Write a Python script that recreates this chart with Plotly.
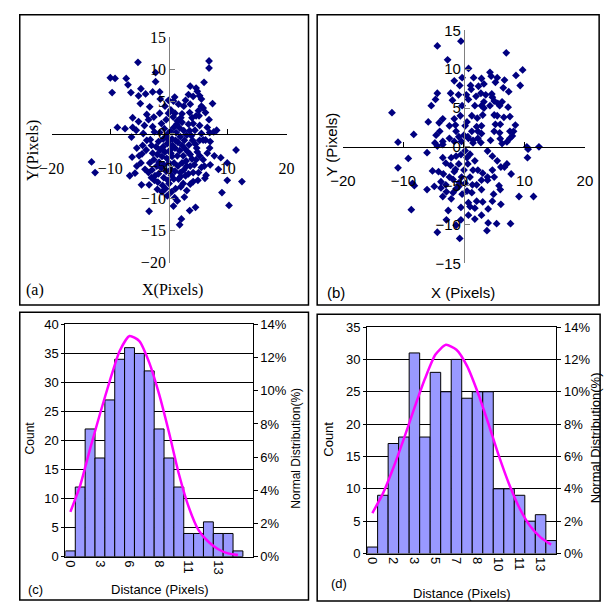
import plotly.graph_objects as go

# ---------------- data ----------------
a_points = [
    (-5.3, 11.1), (6.8, 11.3), (6.8, 10.2), (-10.0, 8.7), (-9.2, 8.6), (-7.3, 8.6), (-7.0, 7.6),
    (-2.3, 9.5), (-2.3, 8.1), (-9.7, 6.4), (-6.5, 6.4), (-5.2, 5.9), (-4.8, 7.0), (-4.0, 6.2),
    (-2.8, 6.5), (-1.6, 6.5), (-4.9, 4.7), (-3.3, 4.2), (-1.5, 5.4), (-0.1, 5.2), (-1.6, 3.2),
    (-0.1, 3.2), (-6.2, 2.5), (-5.2, 1.9), (-8.8, 1.0), (-7.5, 0.8), (-6.2, 1.0), (-5.6, 0.56),
    (-6.4, -0.5), (-4.4, 0.06), (-3.2, -0.9), (-2.5, 0.3), (-1.3, 1.6), (5.95, 8.0), (3.6, 7.4),
    (4.6, 7.1), (4.8, 6.6), (3.3, 6.1), (4.1, 5.8), (5.2, 5.9), (5.5, 5.4), (0.95, 5.7), (0.74, 5.1),
    (7.4, 4.7), (5.5, 4.3), (5.8, 4.0), (2.5, 4.3), (3.6, 4.6), (3.5, 3.3), (0.3, 3.7), (0.7, 2.6),
    (2.2, 3.1), (4.6, 2.8), (5.1, 2.8), (3.9, 2.5), (6.8, 2.2), (2.2, 1.8), (1.4, 2.0), (4.1, 1.6),
    (5.2, 1.3), (3.3, 1.5), (8.1, 0.56), (7.6, 0.3), (6.9, 0.2), (5.5, 0.06), (4.4, 0.56),
    (5.8, -0.95), (11.4, -2.5), (6.9, -2.2), (7.7, -3.4), (8.8, -3.7), (9.9, -4.5), (8.4, -5.5),
    (6.3, -6.4), (6.1, -6.9), (9.9, -7.2), (12.4, -7.4), (9.0, -9.1), (10.2, -11.1), (3.6, -7.8),
    (4.1, -7.4), (4.5, -11.4), (3.5, -11.9), (1.4, -10.4), (0.74, -11.2), (2.1, -13.2), (1.8, -14.1),
    (0.95, -9.9), (1.1, -8.5), (2.4, -7.7), (2.8, -6.5), (3.3, -6.2), (1.9, -6.0), (4.1, -6.0),
    (5.0, -6.0), (5.2, -3.4), (5.8, -4.0), (4.6, -4.0), (4.7, -2.2), (5.2, -1.0), (6.2, -0.95),
    (3.6, -3.2), (3.0, -5.0), (2.2, -4.5), (1.4, -3.4), (0.85, -4.5), (0.3, -5.5), (0.0, -7.7),
    (0.4, -9.0), (1.9, -0.44), (-13.2, -4.35), (-12.6, -6.0), (-6.3, -3.6), (-6.7, -6.5),
    (-5.8, -6.1), (-4.7, -7.9), (-3.4, -7.9), (-3.4, -12.0), (-5.1, -3.4), (-4.6, -3.1),
    (-1.1, -8.0), (-1.9, -7.5), (-3.5, -6.0), (-2.4, -6.5), (-4.1, -5.5), (-3.3, -4.5),
    (-0.5, -0.5), (0.2, 0.4), (0.8, 1.0), (1.2, 0.2), (1.8, 0.9), (2.5, 0.5), (3.0, -0.2),
    (2.6, -1.0), (1.5, -1.3), (0.6, -1.8), (-0.3, -1.5), (-1.0, -0.8), (-1.8, -1.2), (-2.2, -2.0),
    (-1.5, -2.5), (-0.7, -2.8), (0.2, -2.5), (1.0, -2.2), (1.8, -2.6), (2.7, -2.3), (3.4, -1.7),
    (4.0, -1.0), (3.8, -0.3), (4.5, -1.6), (3.2, -2.8), (2.4, -3.4), (0.5, -3.5), (-0.4, -3.8),
    (-1.2, -3.5), (-2.0, -3.2), (-2.8, -3.0), (-2.6, -4.0), (-1.7, -4.4), (-0.9, -4.8), (0.0, -4.5),
    (1.5, -5.0), (2.5, -5.6), (3.6, -5.0), (4.3, -4.8), (3.9, -3.9), (2.9, -4.2), (1.0, -5.8),
    (0.4, -6.4), (-0.5, -5.8), (-1.3, -5.3), (-2.1, -5.0), (-2.9, -5.6), (-1.8, -6.2), (-0.9, -6.8),
    (-0.2, -7.2), (0.8, -7.0), (1.6, -7.0), (2.0, -8.2), (-0.6, -8.5), (-2.5, -7.2), (-3.0, -6.8),
    (-1.2, -9.0), (-0.3, -9.6), (-2.0, -8.6), (0.5, -0.8), (1.3, 1.5), (2.0, 2.5), (1.0, 3.2),
    (-0.5, 2.2), (-0.8, 0.8), (-1.6, 0.2), (-2.8, 1.1), (-3.5, 2.2), (-3.8, -1.0), (-4.5, -1.8),
    (-3.0, -1.8), (-3.9, -2.5), (-5.5, -2.2), (-4.8, -4.5), (-5.5, -5.0), (6.5, -3.0), (6.0, -5.0),
    (7.0, -4.8), (5.5, -5.2), (4.9, -7.2), (3.0, -8.8), (2.6, -9.8), (6.5, 1.0), (7.0, -1.2),
    (5.0, 3.6), (6.2, 3.3), (2.8, 5.2), (1.6, 4.6), (-0.7, 4.3), (-2.6, 2.6), (-3.8, 3.0),
    (-4.2, 1.3), (1.1, -1.0), (2.2, -1.8), (0.0, -1.1), (-0.2, 0.0), (3.5, 0.5), (4.8, -2.8),
    (2.0, -6.6), (-1.0, -2.0), (0.3, -3.0),
]

b_points = [
    (-4.4, 13.0), (-0.5, 13.6), (-2.7, 11.2), (-1.6, 8.5), (-0.3, 8.9), (-4.4, 6.9), (-4.7, 6.1),
    (-5.4, 5.3), (-2.2, 6.9), (-0.9, 6.7), (-0.3, 5.3), (-11.9, 4.4), (-5.9, 3.2), (-4.1, 3.1),
    (-3.5, 3.6), (-2.4, 2.7), (-1.3, 2.0), (-8.3, 1.6), (-4.6, 1.5), (3.8, -10.8), (4.0, -9.8),
    (5.4, -9.9), (7.7, -9.9), (9.1, -6.4), (11.5, -6.4), (7.8, -3.5), (6.7, -2.6), (10.6, -0.3),
    (10.5, -1.4), (8.2, 2.0), (7.6, 1.1), (-0.7, 7.9), (-1.9, 6.0), (0.4, 6.7),
    (7.0, 12.1), (0.76, 10.1), (4.3, 9.6), (4.5, 9.1), (5.5, 8.9), (6.7, 8.6), (8.6, 9.2),
    (9.7, 9.9), (9.3, 7.9), (1.6, 8.9), (2.9, 8.8), (1.1, 7.9), (2.4, 7.8), (3.3, 8.1), (5.2, 8.3),
    (6.5, 7.6), (7.4, 7.1), (2.0, 6.5), (2.8, 6.9), (3.6, 6.7), (4.6, 6.8), (4.7, 6.4), (3.3, 5.8),
    (2.9, 5.3), (3.3, 5.0), (4.3, 5.3), (5.6, 5.6), (5.9, 5.3), (6.3, 5.8), (7.3, 5.1), (5.0, 5.9),
    (2.2, 3.7), (3.1, 4.1), (5.0, 4.1), (5.5, 4.0), (6.6, 3.8), (7.6, 3.9), (5.2, 2.9), (6.0, 2.9),
    (8.5, 2.8), (0.2, 2.7), (2.3, 2.0), (2.9, 2.7), (5.0, 2.0), (5.9, 1.8), (7.6, 2.0), (8.0, 1.4),
    (0.65, 1.3), (1.5, 0.84), (2.8, 0.55), (4.4, 0.84), (6.0, 1.05), (7.1, 0.63), (6.3, 0.42),
    (10.4, 0.0), (12.4, 0.0),
    (-10.9, 0.6), (-9.2, -1.5), (-10.9, -2.7), (-8.5, -4.7), (-8.2, -5.0), (-8.7, -8.1),
    (-6.1, -5.5), (-4.9, -5.1), (-6.1, -0.76), (-5.2, -3.1), (-4.2, -3.2), (-3.4, -3.5),
    (-3.8, -4.5), (-4.4, 0.1), (-3.5, 0.3), (-3.5, -1.4), (-2.1, -1.4), (-1.3, -1.2), (-0.5, -1.0),
    (-1.4, -2.9), (-2.9, -5.8), (-2.1, -6.7), (-1.3, -5.4), (-2.6, -8.2), (-2.9, -9.4),
    (-4.4, -11.0), (-0.7, -11.8), (-1.3, -10.1), (-0.5, -9.4), (-1.8, -4.2), (-0.8, -4.6),
    (-0.3, -6.1), (-0.5, -7.8), (-3.0, -2.1),
    (3.9, -0.54), (4.7, -1.2), (5.5, -1.8), (6.1, -2.6), (4.7, -3.0), (3.9, -3.9), (3.1, -3.4),
    (2.3, -3.0), (1.8, -1.8), (1.0, -0.96), (0.64, -2.2), (1.4, -4.9), (2.9, -5.5), (3.9, -4.3),
    (4.9, -6.1), (5.8, -5.0), (6.0, -5.5), (4.0, -8.0), (3.1, -7.1), (1.8, -7.9), (1.0, -7.7),
    (0.74, -7.2), (2.1, -7.0), (5.0, -3.9), (7.1, -2.2), (6.1, -7.4), (4.7, -7.0),
    (0.2, -0.5), (0.5, -1.4), (0.0, -3.0), (-0.85, -2.2), (-0.4, -3.9), (0.2, -4.7), (-0.85, -5.1),
    (1.0, -3.9), (1.5, -3.0), (0.5, -5.7), (1.3, -5.9), (2.1, -4.9), (2.9, -4.3), (-1.6, -3.2),
    (-2.2, -2.4), (-2.4, -3.9), (-3.0, -4.9), (-3.8, -5.3), (-3.5, -6.4), (-1.8, -5.9),
    (0.74, -8.8), (1.8, -9.3), (2.9, -8.8),
    (-2.4, 1.1), (-1.6, 0.7), (-0.85, 1.3), (-0.4, 0.7), (0.0, 1.5), (-1.4, 2.8), (-3.5, 0.7),
    (-4.0, 2.0), (-4.8, 0.5), (-1.6, 3.6), (-0.6, 4.0), (0.5, 3.2), (1.3, 2.0), (0.74, 1.1),
    (1.5, 0.5), (2.3, 1.1), (2.9, 1.7), (2.1, 2.6), (1.3, 4.0), (1.8, 5.3), (0.74, 6.1), (1.2, 7.4),
]

c_counts = [1, 12, 22, 17, 27, 34, 36, 35, 32, 22, 17, 12, 4, 4, 6, 4, 4, 1]
c_normal_pct = [2.7, 4.3, 6.5, 8.6, 10.6, 12.4, 13.3, 13.0, 11.7, 9.8, 7.5, 5.0, 3.0, 1.6, 0.9, 0.45, 0.2, 0.1]
c_tick_labels = ["0", "3", "6", "8", "11", "13"]

d_counts = [1, 9, 17, 18, 31, 18, 28, 25, 30, 24, 25, 25, 10, 10, 9, 5, 6, 2]
d_normal_pct = [2.5, 3.7, 5.3, 7.1, 9.0, 10.8, 12.3, 12.9, 12.6, 11.6, 10.0, 8.1, 6.1, 4.3, 2.8, 1.7, 1.0, 0.55]
d_tick_labels = ["0", "2", "3", "5", "7", "8", "10", "11", "13"]

# ---------------- helpers ----------------
W, H = 611, 612
def px(x): return x / W
def py(y): return 1 - y / H
def zero_pos(dom, rng):
    return dom[0] + (0 - rng[0]) / (rng[1] - rng[0]) * (dom[1] - dom[0])

serif = "Times New Roman, Liberation Serif, serif"
sans = "Arial, Liberation Sans, sans-serif"
navy = "#000080"

fig = go.Figure()

ax_, ay_ = zip(*a_points)
fig.add_trace(go.Scatter(x=ax_, y=ay_, mode="markers", xaxis="x", yaxis="y",
                         marker=dict(symbol="diamond", size=6, color=navy)))
bx_, by_ = zip(*b_points)
fig.add_trace(go.Scatter(x=bx_, y=by_, mode="markers", xaxis="x2", yaxis="y2",
                         marker=dict(symbol="diamond", size=6, color=navy)))

bar_style = dict(color="#9999FF", line=dict(color="black", width=1))
c_idx = list(range(len(c_counts)))
d_idx = list(range(len(d_counts)))
fig.add_trace(go.Bar(x=c_idx, y=c_counts, width=1, marker=bar_style, xaxis="x3", yaxis="y3"))
fig.add_trace(go.Scatter(x=c_idx, y=c_normal_pct, mode="lines", xaxis="x3", yaxis="y4",
                         line=dict(color="#FF00FF", width=2.5, shape="spline", smoothing=0.6)))
fig.add_trace(go.Bar(x=d_idx, y=d_counts, width=1, marker=bar_style, xaxis="x4", yaxis="y5"))
fig.add_trace(go.Scatter(x=d_idx, y=d_normal_pct, mode="lines", xaxis="x4", yaxis="y6",
                         line=dict(color="#FF00FF", width=2.5, shape="spline", smoothing=0.6)))

# ---------------- scatter axes ----------------
a_xdom, a_ydom = [px(40), px(283.3)], [py(261.5), py(29)]
a_xr, a_yr = [-20, 20], [-20, 15]
b_xdom, b_ydom = [px(341.7), px(592.3)], [py(262), py(22)]
b_xr, b_yr = [-20, 20], [-15, 15]

def scat_x(dom, rng, ydom, yrng, font):
    return dict(domain=dom, range=rng, anchor="free", position=zero_pos(ydom, yrng),
                showline=True, linecolor="black", linewidth=1, ticks="inside", ticklen=5,
                tickcolor="black", tickvals=[-20, -10, 0, 10, 20], ticklabelstandoff=20,
                tickfont=font, showgrid=False, zeroline=False, fixedrange=True)

def scat_y(dom, rng, xdom, xrng, font, vals):
    return dict(domain=dom, range=rng, anchor="free", position=zero_pos(xdom, xrng),
                showline=True, linecolor="#808080", linewidth=1, ticks="inside", ticklen=5,
                tickcolor="#808080", tickvals=vals, tickfont=font, showgrid=False,
                zeroline=False, fixedrange=True)

fa = dict(family=serif, size=16, color="black")
fb = dict(family=sans, size=15, color="black")

# ---------------- histogram axes ----------------
c_xdom, c_ydom = [px(54.3), px(248.3)], [py(564.3), py(325)]
d_xdom, d_ydom = [px(366.7), px(562.7)], [py(561), py(327.7)]
fh = dict(family=sans, size=13, color="black")

def hist_x(dom, anchor, n_extra, n, labels, step):
    return dict(domain=dom, anchor=anchor, range=[-0.5, n - 0.5 + n_extra],
                tickvals=list(range(0, step * len(labels), step)), ticktext=labels,
                tickangle=90, tickfont=fh, showline=True, linecolor="black", mirror=True,
                ticks="", showgrid=False, zeroline=False, fixedrange=True)

def hist_y(dom, anchor, top):
    return dict(domain=dom, anchor=anchor, range=[0, top], dtick=5, tickfont=fh,
                showline=True, linecolor="black", ticks="outside", ticklen=3,
                tickcolor="black", showgrid=True, gridcolor="black", gridwidth=1,
                zeroline=False, fixedrange=True)

def hist_y2(over, anchor):
    return dict(overlaying=over, side="right", anchor=anchor, range=[0, 14], dtick=2,
                ticksuffix="%", tickfont=fh, showline=True, linecolor="black",
                ticks="outside", ticklen=4, tickcolor="black", showgrid=False,
                zeroline=False, fixedrange=True)

fig.update_layout(
    width=W, height=H, margin=dict(l=0, r=0, t=0, b=0),
    paper_bgcolor="white", plot_bgcolor="white", showlegend=False, bargap=0,
    xaxis=scat_x(a_xdom, a_xr, a_ydom, a_yr, fa),
    yaxis=scat_y(a_ydom, a_yr, a_xdom, a_xr, fa, list(range(-20, 16, 5))),
    xaxis2=scat_x(b_xdom, b_xr, b_ydom, b_yr, fb),
    yaxis2=scat_y(b_ydom, b_yr, b_xdom, b_xr, fb, list(range(-15, 16, 5))),
    xaxis3=hist_x(c_xdom, "y3", 1, len(c_counts), c_tick_labels, 3),
    yaxis3=hist_y(c_ydom, "x3", 40),
    yaxis4=hist_y2("y3", "x3"),
    xaxis4=hist_x(d_xdom, "y5", 0, len(d_counts), d_tick_labels, 2),
    yaxis5=hist_y(d_ydom, "x4", 35),
    yaxis6=hist_y2("y5", "x4"),
)

# ---------------- frames ----------------
frames = [(7, 6, 306, 305), (315, 6, 607, 305), (7, 312.5, 306, 609), (315, 314.5, 608, 610)]
for x0, y0, x1, y1 in frames:
    fig.add_shape(type="rect", xref="paper", yref="paper", x0=px(x0), x1=px(x1),
                  y0=py(y1), y1=py(y0), line=dict(color="black", width=1.5))

# ---------------- text ----------------
def note(text, x, y, font, angle=0):
    fig.add_annotation(text=text, x=px(x), y=py(y), xref="paper", yref="paper",
                       showarrow=False, textangle=angle, font=font,
                       xanchor="center", yanchor="middle")

note("Y(Pixels)", 20, 146, dict(family=serif, size=16, color="black"), -90)
note("X(Pixels)", 165, 290, dict(family=serif, size=16, color="black"))
note("(a)", 23, 290, dict(family=serif, size=16, color="black"))

note("Y (Pixels)", 330, 140, dict(family=sans, size=15, color="black"), -90)
note("X (Pixels)", 466, 292, dict(family=sans, size=15, color="black"))
note("(b)", 334, 292, dict(family=sans, size=15, color="black"))

fs = dict(family=sans, size=12, color="black")
note("Count", 18, 442, fs, -90)
note("Normal Distribution(%)", 293, 452, fs, -90)
note("Distance (Pixels)", 152, 598, dict(family=sans, size=13, color="black"))
note("(c)", 23, 598, dict(family=sans, size=13, color="black"))

note("Count", 327, 443, dict(family=sans, size=13, color="black"), -90)
note("Normal Distribution(%)", 603, 442, dict(family=sans, size=13, color="black"), -90)
note("Distance (Pixels)", 465, 602, dict(family=sans, size=13, color="black"))
note("(d)", 338, 592, dict(family=sans, size=13, color="black"))

fig.write_html(
    "out.html",
    config={"displayModeBar": False, "staticPlot": True},
    post_script="document.body.style.margin='0';document.body.style.overflow='hidden';",
)
